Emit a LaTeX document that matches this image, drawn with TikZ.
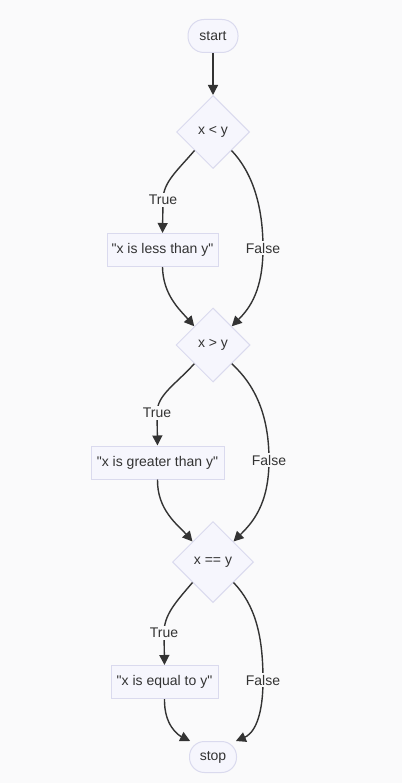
\documentclass[tikz,border=0pt]{standalone}
\usepackage{fontspec}
\newfontfamily\flowfont{Liberation Sans}
\usetikzlibrary{shapes.geometric,arrows.meta}
\definecolor{bg}{HTML}{FAFAFB}
\definecolor{nodefill}{HTML}{F6F6FD}
\definecolor{nodeline}{HTML}{DADAEE}
\definecolor{ink}{HTML}{333333}
\begin{document}
\begin{tikzpicture}[x=1pt,y=-1pt, font=\flowfont\fontsize{14}{16}\selectfont, text=ink,
 term/.style={draw=nodeline, fill=nodefill, line width=1pt, rounded corners=16pt, minimum width=50pt, minimum height=33pt, inner sep=0pt},
 procbox/.style={draw=nodeline, fill=nodefill, line width=1pt, minimum height=33pt, inner sep=0pt},
 decision/.style={diamond, shape aspect=1, draw=nodeline, fill=nodefill, line width=1pt, inner sep=0pt},
 flow/.style={draw=ink, line width=1.4pt, -{Triangle[length=10pt,width=10pt]}},
 elabel/.style={fill=bg, inner sep=2pt}]
\fill[bg] (0,0) rectangle (402,783);
\useasboundingbox (0,0) rectangle (402,783);

\node[term] (start) at (213,36) {start};
\node[decision, minimum size=73pt] (d1) at (213,132) {x < y};
\node[procbox, minimum width=111pt] (b1) at (162.5,250) {"x is less than y"};
\node[decision, minimum size=74pt] (d2) at (213,345) {x > y};
\node[procbox, minimum width=133pt] (b2) at (157.5,462.5) {"x is greater than y"};
\node[decision, minimum size=81pt] (d3) at (213,562) {x == y};
\node[procbox, minimum width=107pt] (b3) at (164.5,682) {"x is equal to y"};
\node[term, minimum width=47pt, minimum height=31pt, rounded corners=15pt] (stop) at (213,757) {stop};

\coordinate (t1) at (163,200);
\coordinate (f1) at (263,248);
\coordinate (t2) at (157,413);
\coordinate (f2) at (269,460);
\coordinate (t3) at (164,633);
\coordinate (f3) at (263,680);

\draw[flow] (start) -- (d1);
\draw[flow] (d1.south west) .. controls (178,170) and (163,182) .. (t1) -- (b1.north);
\draw[flow] (d1.south east) .. controls (252,172) and (263,205) .. (f1) .. controls (263,290) and (250,308) .. (d2.north east);
\draw[flow] (b1.south) .. controls (163,295) and (180,310) .. (d2.north west);

\draw[flow] (d2.south west) .. controls (175,385) and (157,395) .. (t2) -- (b2.north);
\draw[flow] (d2.south east) .. controls (255,385) and (269,415) .. (f2) .. controls (269,505) and (252,523) .. (d3.north east);
\draw[flow] (b2.south) .. controls (157,510) and (178,525) .. (d3.north west);

\draw[flow] (d3.south west) .. controls (175,603) and (164,615) .. (t3) -- (b3.north);
\draw[flow] (d3.south east) .. controls (255,605) and (263,635) .. (f3) .. controls (263,725) and (250,735) .. (stop.35);
\draw[flow] (b3.south) .. controls (164,725) and (178,735) .. (stop.145);

\node[elabel] (lt1) at (t1) {True};
\node[elabel] (lf1) at (f1) {False};
\node[elabel] (lt2) at (t2) {True};
\node[elabel] (lf2) at (f2) {False};
\node[elabel] (lt3) at (t3) {True};
\node[elabel] (lf3) at (f3) {False};
\end{tikzpicture}
\end{document}
